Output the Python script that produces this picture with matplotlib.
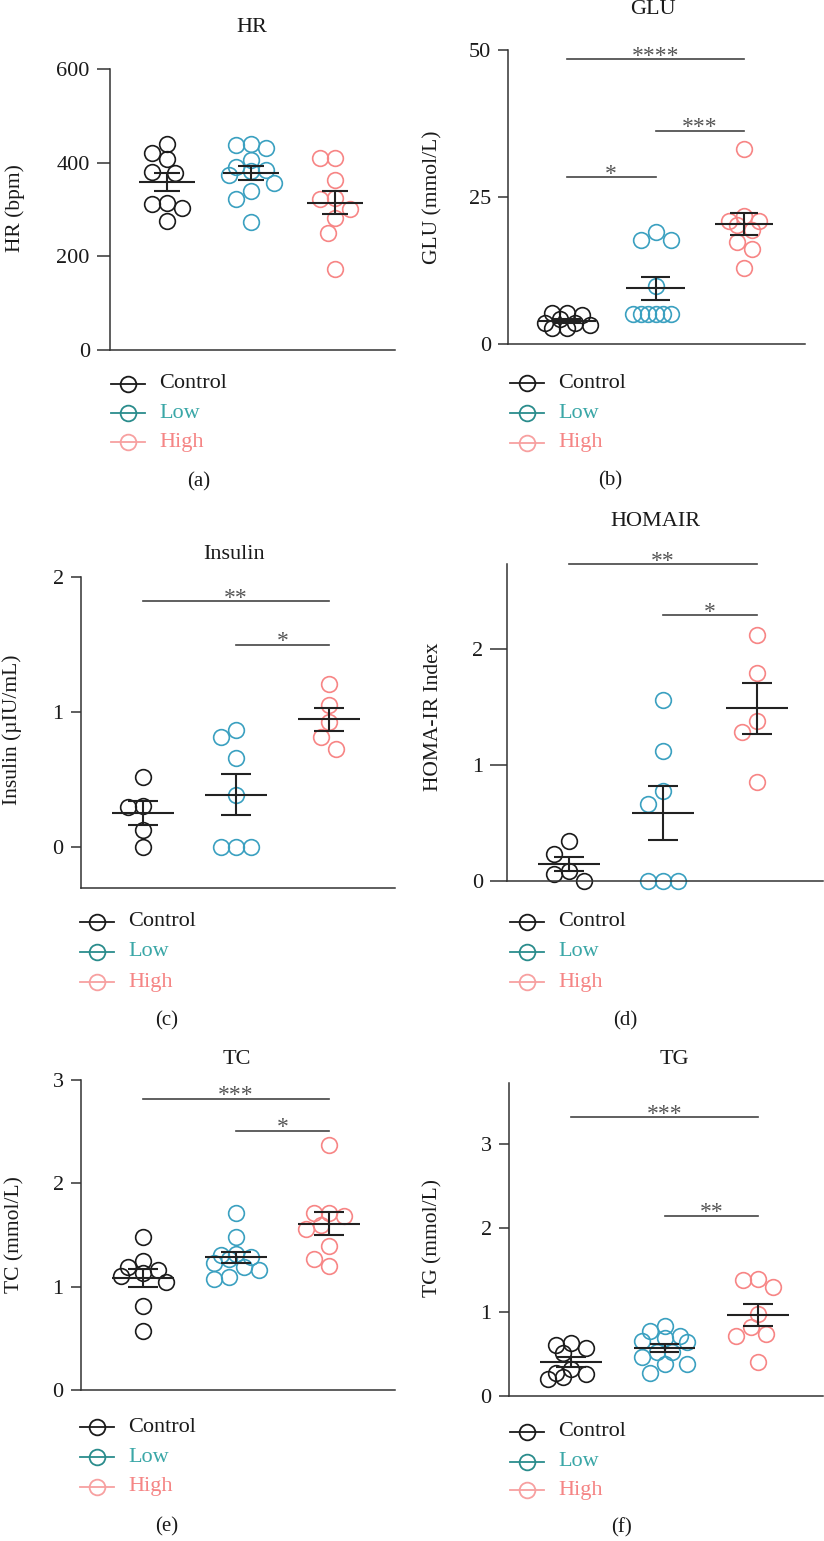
import matplotlib
matplotlib.use("Agg")
import matplotlib.pyplot as plt
import numpy as np
from matplotlib.lines import Line2D

plt.rcParams['font.family'] = ['Liberation Serif', 'DejaVu Serif']

W, H = 824, 1541

groups = ['Control', 'Low', 'High']

# measured values per group
hr_ctrl = [440, 421, 407, 381, 379, 313, 312, 303, 276]
hr_low = [440, 437, 431, 406, 391, 385, 382, 374, 357, 339, 322, 274]
hr_high = [409, 409, 362, 325, 323, 302, 281, 249, 172]

glu_ctrl = [5.3, 5.2, 4.9, 4.2, 3.6, 3.5, 3.3, 2.7, 2.7]
glu_low = [19.0, 17.7, 17.7, 9.9, 5.1, 5.1, 5.1, 5.1, 5.1, 5.1]
glu_high = [33.2, 21.7, 21.0, 21.0, 20.3, 19.4, 17.3, 16.1, 13.0]

ins_ctrl = [0.52, 0.31, 0.30, 0.13, 0.0]
ins_low = [0.87, 0.82, 0.66, 0.39, 0.0, 0.0, 0.0]
ins_high = [1.21, 1.05, 0.93, 0.82, 0.73]

homa_ctrl = [0.34, 0.23, 0.09, 0.06, 0.0]
homa_low = [1.56, 1.12, 0.77, 0.66, 0.0, 0.0, 0.0]
homa_high = [2.12, 1.79, 1.38, 1.28, 0.85]

tc_ctrl = [1.48, 1.25, 1.19, 1.16, 1.13, 1.10, 1.05, 0.81, 0.57]
tc_low = [1.71, 1.48, 1.32, 1.31, 1.29, 1.27, 1.23, 1.19, 1.16, 1.09, 1.07]
tc_high = [2.37, 1.71, 1.71, 1.68, 1.60, 1.56, 1.39, 1.27, 1.20]

tg_ctrl = [0.63, 0.61, 0.57, 0.51, 0.32, 0.28, 0.26, 0.23, 0.20]
tg_low = [0.84, 0.77, 0.71, 0.69, 0.65, 0.64, 0.52, 0.52, 0.47, 0.38, 0.38, 0.27]
tg_high = [1.40, 1.38, 1.30, 0.98, 0.82, 0.74, 0.71, 0.41]

# significance brackets: (group a, group b, height, stars)
glu_sig = [(0, 2, 48.5, '****'), (0, 1, 28.4, '*'), (1, 2, 36.3, '***')]
ins_sig = [(0, 2, 1.82, '**'), (1, 2, 1.50, '*')]
homa_sig = [(0, 2, 2.727, '**'), (1, 2, 2.284, '*')]
tc_sig = [(0, 2, 2.82, '***'), (1, 2, 2.51, '*')]
tg_sig = [(0, 2, 3.32, '***'), (1, 2, 2.15, '**')]

dot_colors = ['#1a1a1a', '#3aa0c0', '#f78585']
leg_line_colors = ['#1a1a1a', '#2a8c8c', '#f7a0a0']
leg_text_colors = ['#1a1a1a', '#3aa7a7', '#f58585']

MS = 11.3  # marker size in points

fig = plt.figure(figsize=(W / 100, H / 100), dpi=100)


def make_axes(left, right, top, bottom):
    return fig.add_axes([left / W, 1 - bottom / H, (right - left) / W, (bottom - top) / H])


def swarm(ax, values, center, diam_px, max_steps=3):
    # beeswarm within a fixed band: free slot if any, else the least crowded one
    px_x = ax.bbox.width / (ax.get_xlim()[1] - ax.get_xlim()[0])
    px_y = ax.bbox.height / (ax.get_ylim()[1] - ax.get_ylim()[0])
    step = diam_px * 0.5
    cands = [0.0]
    for i in range(1, max_steps + 1):
        cands += [-i * step, i * step]
    placed = []
    xs = []
    for v in values:
        y = v * px_y
        best, best_d = 0.0, -1
        for off in cands:
            d = min([np.hypot(off - ox, y - oy) for ox, oy in placed] or [1e9])
            if d >= diam_px:
                best = off
                break
            if d > best_d + 1e-6:
                best, best_d = off, d
        placed.append((best, y))
        xs.append(center + best / px_x)
    return xs


def panel(ax, data, xlim, ylim, yticks, ticklen, title, title_xy, ylabel, ylabel_xy, sig=None):
    ax.set_xlim(*xlim)
    ax.set_ylim(*ylim)
    for s in ['top', 'right']:
        ax.spines[s].set_visible(False)
    for s in ['left', 'bottom']:
        ax.spines[s].set_color('#333333')
        ax.spines[s].set_linewidth(1.1)
    ax.set_xticks([])
    ax.set_yticks(yticks)
    ax.tick_params(axis='y', length=ticklen, width=1.1, color='#333333', labelsize=16,
                   labelcolor='#1a1a1a', pad=5)
    ax.patch.set_alpha(0)

    for i, vals in enumerate(data):
        xs = swarm(ax, vals, i, 15)
        ax.plot(xs, vals, 'o', ms=MS, mfc='none', mec=dot_colors[i], mew=1.2, clip_on=False)
        m = np.mean(vals)
        se = np.std(vals, ddof=1) / np.sqrt(len(vals))
        ax.hlines(m, i - 0.33, i + 0.33, color='#222222', lw=1.5, zorder=5)
        ax.hlines([m - se, m + se], i - 0.16, i + 0.16, color='#222222', lw=1.5, zorder=5)
        ax.vlines(i, m - se, m + se, color='#222222', lw=1.5, zorder=5)

    if sig:
        for a, b, h, stars in sig:
            ax.plot([a, b], [h, h], color='#444444', lw=1.2, clip_on=False)
            ax.annotate(stars, xy=((a + b) / 2, h), xytext=(0, -2), textcoords='offset points',
                        ha='center', va='baseline', fontsize=17, color='#555555',
                        annotation_clip=False)

    fig.text(title_xy[0] / W, 1 - title_xy[1] / H, title, ha='center', va='center',
             fontsize=16, color='#1a1a1a')
    fig.text(ylabel_xy[0] / W, 1 - ylabel_xy[1] / H, ylabel, ha='center', va='center',
             rotation=90, fontsize=15.5, color='#1a1a1a')


def legend(x_marker, rows_y, caption, caption_xy):
    for i, (name, y) in enumerate(zip(groups, rows_y)):
        fy = 1 - y / H
        line = Line2D([(x_marker - 17) / W, x_marker / W, (x_marker + 17) / W], [fy, fy, fy],
                      transform=fig.transFigure, color=leg_line_colors[i], lw=1.3,
                      marker='o', markevery=[1], ms=MS, mfc='none', mec=leg_line_colors[i], mew=1.3)
        fig.add_artist(line)
        fig.text((x_marker + 31) / W, fy, name, ha='left', va='center', fontsize=16,
                 color=leg_text_colors[i])
    fig.text(caption_xy[0] / W, 1 - caption_xy[1] / H, caption, ha='center', va='center',
             fontsize=15, color='#1a1a1a')


# (a) HR
ax = make_axes(110, 395, 69, 350)
panel(ax, [hr_ctrl, hr_low, hr_high], (-0.679, 2.714), (0, 600), [0, 200, 400, 600], 9.5,
      'HR', (252, 28), 'HR (bpm)', (15, 208))
legend(128, [384, 413, 442], '(a)', (199, 482))

# (b) GLU
ax = make_axes(508, 805, 50, 344)
panel(ax, [glu_ctrl, glu_low, glu_high], (-0.667, 2.689), (0, 50), [0, 25, 50], 7,
      'GLU', (653, 9), 'GLU (mmol/L)', (433, 197), glu_sig)
legend(527, [383, 413, 443], '(b)', (610, 481))

# (c) Insulin
ax = make_axes(81, 395, 577, 888)
panel(ax, [ins_ctrl, ins_low, ins_high], (-0.667, 2.71), (-0.3, 2.0), [0, 1, 2], 7.5,
      'Insulin', (234, 554), 'Insulin (\u00b5IU/mL)', (12, 730), ins_sig)
legend(97, [922, 952, 982], '(c)', (167, 1021))

# (d) HOMA-IR
ax = make_axes(507, 823, 564, 881)
panel(ax, [homa_ctrl, homa_low, homa_high], (-0.66, 2.70), (0, 2.727), [0, 1, 2], 12,
      'HOMAIR', (655, 522), 'HOMA-IR Index', (433, 717), homa_sig)
legend(527, [922, 952, 982], '(d)', (625, 1021))

# (e) TC
ax = make_axes(81, 395, 1080, 1390)
panel(ax, [tc_ctrl, tc_low, tc_high], (-0.667, 2.71), (0, 3), [0, 1, 2, 3], 7.5,
      'TC', (237, 1059), 'TC (mmol/L)', (15, 1235), tc_sig)
legend(97, [1427, 1457, 1487], '(e)', (167, 1527))

# (f) TG
ax = make_axes(509, 823, 1083, 1396)
panel(ax, [tg_ctrl, tg_low, tg_high], (-0.663, 2.695), (0, 3.73), [0, 1, 2, 3], 7.5,
      'TG', (674, 1059), 'TG (mmol/L)', (433, 1238), tg_sig)
legend(527, [1432, 1462, 1490], '(f)', (622, 1528))

fig.savefig('out.png', dpi=100)
